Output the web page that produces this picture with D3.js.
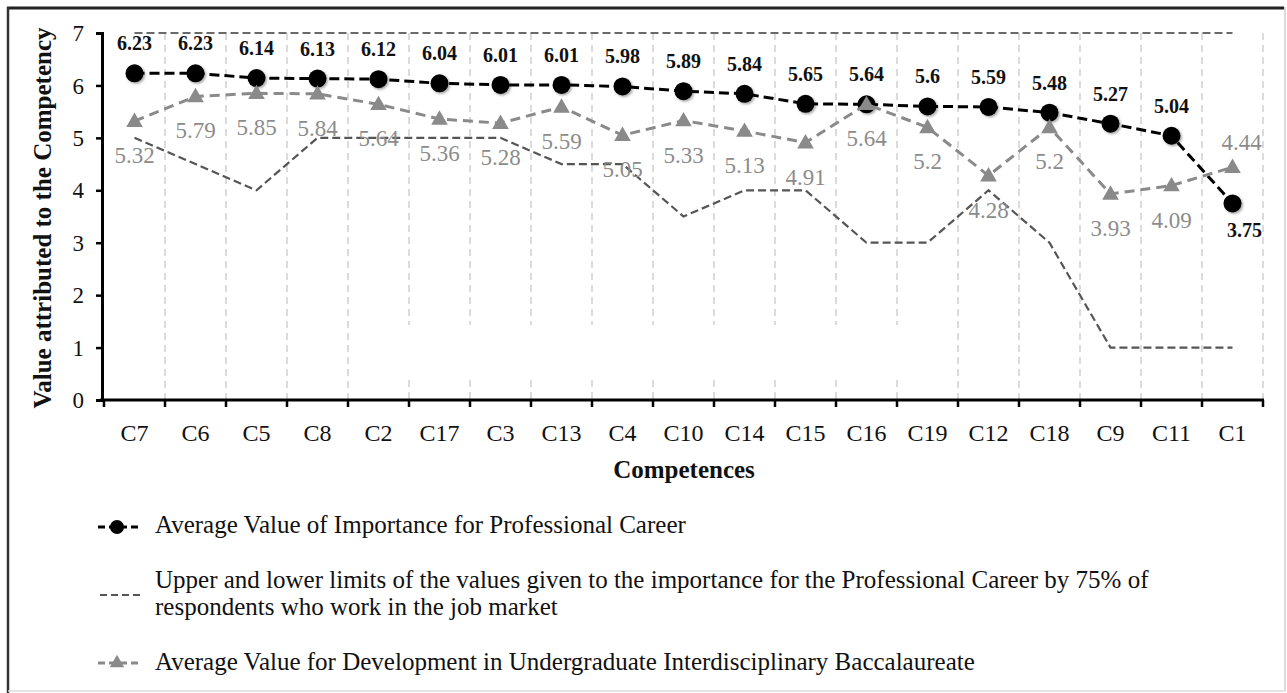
<!DOCTYPE html>
<html>
<head>
<meta charset="utf-8">
<script src="https://cdn.jsdelivr.net/npm/d3@7"></script>
<style>
html, body { margin: 0; padding: 0; background: #fff; }
svg { display: block; font-family: "Liberation Serif", "Times New Roman", serif; }
</style>
</head>
<body>
<svg id="chart" width="1287" height="693"></svg>
<script>
// competences, ordered by average importance
var categories = ["C7","C6","C5","C8","C2","C17","C3","C13","C4","C10","C14","C15","C16","C19","C12","C18","C9","C11","C1"];
var importance = [6.23,6.23,6.14,6.13,6.12,6.04,6.01,6.01,5.98,5.89,5.84,5.65,5.64,5.6,5.59,5.48,5.27,5.04,3.75];
var development = [5.32,5.79,5.85,5.84,5.64,5.36,5.28,5.59,5.05,5.33,5.13,4.91,5.64,5.2,4.28,5.2,3.93,4.09,4.44];
var upperLimit = [7,7,7,7,7,7,7,7,7,7,7,7,7,7,7,7,7,7,7];
var lowerLimit = [5,4.5,4,5,5,5,5,4.5,4.5,3.5,4,4,3,3,4,3,1,1,1];
var yTicks = [0,1,2,3,4,5,6,7];
var legendImportance = ["Average Value of Importance for Professional Career"];
var legendLimits = ["Upper and lower limits of the values given to the importance for the Professional Career by 75% of",
  "respondents who work in the job market"];
var legendDevelopment = ["Average Value for Development in Undergraduate Interdisciplinary Baccalaureate"];

var svg = d3.select("#chart");
var W = 1287, H = 693;

var x = d3.scaleBand().domain(categories).range([104, 1263]).padding(0);
var y = d3.scaleLinear().domain([0, 7]).range([400, 33]);
var cx = function (i) { return x(categories[i]) + x.bandwidth() / 2; };

var defs = svg.append("defs");
var shadow = defs.append("filter").attr("id", "shadow").attr("x", "-50%").attr("y", "-50%").attr("width", "200%").attr("height", "200%");
shadow.append("feDropShadow").attr("dx", 1.5).attr("dy", 1.5).attr("stdDeviation", 1.2).attr("flood-color", "#000").attr("flood-opacity", 0.35);

// frame of the figure
svg.append("line").attr("x1", 7).attr("x2", 1284).attr("y1", 8).attr("y2", 8).attr("stroke", "#222").attr("stroke-width", 3);
svg.append("line").attr("x1", 8).attr("x2", 8).attr("y1", 7).attr("y2", H).attr("stroke", "#333").attr("stroke-width", 2.5);
svg.append("line").attr("x1", 1285).attr("x2", 1285).attr("y1", 7).attr("y2", 691).attr("stroke", "#cfcfcf").attr("stroke-width", 1.5);
svg.append("line").attr("x1", 8).attr("x2", 1285).attr("y1", 691).attr("y2", 691).attr("stroke", "#dcdcdc").attr("stroke-width", 1.5);

// band boundaries
var bounds = categories.map(function (c) { return x(c); }).concat([x.range()[1]]);

// vertical dashed gridlines (some are broken near the bottom in the original)
var grid = svg.append("g").attr("stroke", "#cfcfcf").attr("stroke-width", 1.5).attr("stroke-dasharray", "7,5");
bounds.slice(1).forEach(function (bx, k) {
  var idx = k + 1;
  if (idx >= 5 && idx <= 13) {
    grid.append("line").attr("x1", bx).attr("x2", bx).attr("y1", y(7)).attr("y2", y(1.43));
    grid.append("line").attr("x1", bx).attr("x2", bx).attr("y1", y(0.38)).attr("y2", y(0));
  } else {
    grid.append("line").attr("x1", bx).attr("x2", bx).attr("y1", y(7)).attr("y2", y(0));
  }
});

// y axis
var yAxis = svg.append("g").attr("transform", "translate(102,0)")
  .call(d3.axisLeft(y).tickValues(yTicks).tickSize(6).tickPadding(12).tickFormat(d3.format("d")));
yAxis.select(".domain").attr("stroke", "#000").attr("stroke-width", 3);
yAxis.selectAll(".tick line").attr("stroke", "#000").attr("stroke-width", 2.5);
yAxis.selectAll(".tick text").attr("font-family", "Liberation Serif, serif").attr("font-size", 23).attr("fill", "#111").attr("dy", "0.33em");

// x axis: line, boundary ticks, centred labels
svg.append("line").attr("x1", 100).attr("x2", 1264).attr("y1", 400).attr("y2", 400).attr("stroke", "#000").attr("stroke-width", 3);
svg.append("g").selectAll("line").data(bounds).join("line")
  .attr("x1", function (d) { return d; }).attr("x2", function (d) { return d; })
  .attr("y1", 400).attr("y2", 407).attr("stroke", "#000").attr("stroke-width", 2.5);
svg.append("g").selectAll("text").data(categories).join("text")
  .attr("x", function (d, i) { return cx(i); }).attr("y", 441)
  .attr("text-anchor", "middle").attr("font-size", 24).attr("fill", "#111")
  .text(function (d) { return d; });

// axis titles
svg.append("text").attr("transform", "translate(51,218) rotate(-90)")
  .attr("text-anchor", "middle").attr("font-size", 25).attr("font-weight", "bold").attr("fill", "#111")
  .text("Value attributed to the Competency");
svg.append("text").attr("x", 684).attr("y", 478)
  .attr("text-anchor", "middle").attr("font-size", 25).attr("font-weight", "bold").attr("fill", "#111")
  .text("Competences");

var line = d3.line().x(function (d, i) { return cx(i); }).y(function (d) { return y(d); });

// limits
svg.append("path").datum(upperLimit).attr("d", line).attr("fill", "none")
  .attr("stroke", "#6a6a6a").attr("stroke-width", 2).attr("stroke-dasharray", "8,4");
svg.append("path").datum(lowerLimit).attr("d", line).attr("fill", "none")
  .attr("stroke", "#555").attr("stroke-width", 2.2).attr("stroke-dasharray", "8,4");

// importance series
svg.append("path").datum(importance).attr("d", line).attr("fill", "none")
  .attr("stroke", "#000").attr("stroke-width", 3).attr("stroke-dasharray", "10,5");
svg.append("g").selectAll("circle").data(importance).join("circle")
  .attr("cx", function (d, i) { return cx(i); }).attr("cy", function (d) { return y(d); })
  .attr("r", 9).attr("fill", "#000").attr("filter", "url(#shadow)");

// development series
svg.append("path").datum(development).attr("d", line).attr("fill", "none")
  .attr("stroke", "#8a8a8a").attr("stroke-width", 3).attr("stroke-dasharray", "10,6");
var tri = d3.symbol().type(d3.symbolTriangle).size(120);
svg.append("g").selectAll("path").data(development).join("path")
  .attr("d", tri).attr("fill", "#8a8a8a")
  .attr("transform", function (d, i) { return "translate(" + cx(i) + "," + (y(d) + 1) + ")"; });

// value labels
var last = categories.length - 1;
svg.append("g").selectAll("text").data(importance).join("text")
  .attr("x", function (d, i) { return i === last ? cx(i) + 12 : cx(i); })
  .attr("y", function (d, i) { return i === last ? y(d) + 34 : y(d) - 23; })
  .attr("text-anchor", "middle").attr("font-size", 20).attr("font-weight", "bold").attr("fill", "#111")
  .text(function (d) { return d; });
svg.append("g").selectAll("text").data(development).join("text")
  .attr("x", function (d, i) { return i === last ? cx(i) + 9 : cx(i); })
  .attr("y", function (d, i) { return i === last ? y(d) - 17 : y(d) + 42; })
  .attr("text-anchor", "middle").attr("font-size", 23).attr("fill", "#8c8c8c")
  .text(function (d) { return d; });

// legend
var lg = svg.append("g");
var lx = 155;
function legendText(lines, y0) {
  lines.forEach(function (t, j) {
    lg.append("text").attr("x", lx).attr("y", y0 + j * 27).attr("font-size", 25).attr("fill", "#111").text(t);
  });
}
lg.append("line").attr("x1", 98).attr("x2", 142).attr("y1", 527).attr("y2", 527)
  .attr("stroke", "#000").attr("stroke-width", 3).attr("stroke-dasharray", "7,4");
lg.append("circle").attr("cx", 117).attr("cy", 527).attr("r", 7).attr("fill", "#000");
legendText(legendImportance, 533);

lg.append("line").attr("x1", 100).attr("x2", 142).attr("y1", 595).attr("y2", 595)
  .attr("stroke", "#555").attr("stroke-width", 2.2).attr("stroke-dasharray", "7,4");
legendText(legendLimits, 588);

lg.append("line").attr("x1", 98).attr("x2", 142).attr("y1", 663).attr("y2", 663)
  .attr("stroke", "#8a8a8a").attr("stroke-width", 3).attr("stroke-dasharray", "7,4");
lg.append("path").attr("d", d3.symbol().type(d3.symbolTriangle).size(90)).attr("fill", "#8a8a8a")
  .attr("transform", "translate(117,663)");
legendText(legendDevelopment, 670);
</script>
</body>
</html>
